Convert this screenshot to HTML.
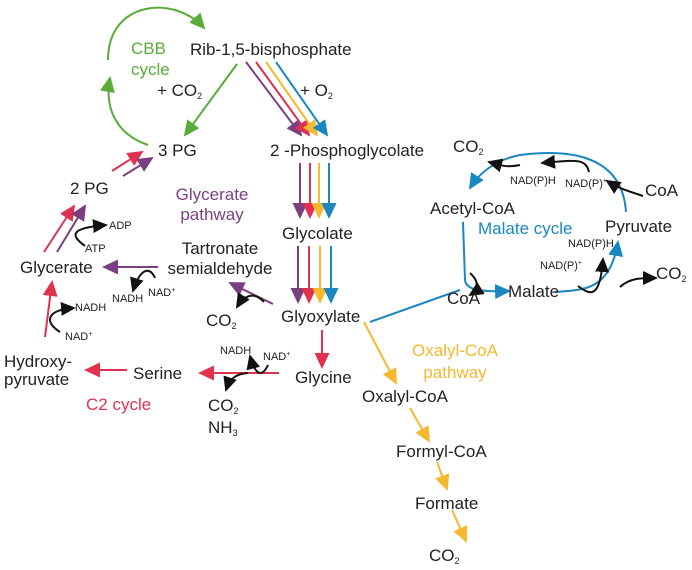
<!DOCTYPE html>
<html><head><meta charset="utf-8"><style>
html,body{margin:0;padding:0;background:#fff;}
svg{display:block;font-family:"Liberation Sans",sans-serif;}
.t{font-size:17px;fill:#222;}
.s{font-size:11px;fill:#222;}
</style></head><body>
<svg width="692" height="570" viewBox="0 0 692 570" xmlns="http://www.w3.org/2000/svg">
<defs>
<marker id="g" markerUnits="userSpaceOnUse" markerWidth="16" markerHeight="15" refX="14" refY="7.5" orient="auto"><path d="M0,0L16,7.5L0,15z" fill="#5aab3a"/></marker>
<marker id="p" markerUnits="userSpaceOnUse" markerWidth="16" markerHeight="15" refX="14" refY="7.5" orient="auto"><path d="M0,0L16,7.5L0,15z" fill="#7b3f7f"/></marker>
<marker id="r" markerUnits="userSpaceOnUse" markerWidth="16" markerHeight="15" refX="14" refY="7.5" orient="auto"><path d="M0,0L16,7.5L0,15z" fill="#e0314f"/></marker>
<marker id="y" markerUnits="userSpaceOnUse" markerWidth="16" markerHeight="15" refX="14" refY="7.5" orient="auto"><path d="M0,0L16,7.5L0,15z" fill="#f5b82e"/></marker>
<marker id="b" markerUnits="userSpaceOnUse" markerWidth="16" markerHeight="15" refX="14" refY="7.5" orient="auto"><path d="M0,0L16,7.5L0,15z" fill="#1a87c0"/></marker>
<marker id="k" markerUnits="userSpaceOnUse" markerWidth="15" markerHeight="14" refX="13" refY="7" orient="auto"><path d="M0,0L15,7L0,14z" fill="#111"/></marker>
</defs>
<g fill="none" stroke-width="2">
<path d="M148,145 C118,135 104,110 110,78" stroke="#5aab3a" marker-end="url(#g)"/>
<path d="M108,60 C108,0 175,-5 204,28" stroke="#5aab3a" marker-end="url(#g)"/>
<path d="M237,64 L185,135" stroke="#5aab3a" marker-end="url(#g)"/>
<path d="M246,62 L301,135" stroke="#7b3f7f" marker-end="url(#p)"/>
<path d="M256,62 L309,135" stroke="#e0314f" marker-end="url(#r)"/>
<path d="M266,62 L317,135" stroke="#f5b82e" marker-end="url(#y)"/>
<path d="M276,62 L327,135" stroke="#1a87c0" marker-end="url(#b)"/>
<path d="M300,163 L300,217" stroke="#7b3f7f" marker-end="url(#p)"/>
<path d="M310,163 L310,217" stroke="#e0314f" marker-end="url(#r)"/>
<path d="M319,163 L319,217" stroke="#f5b82e" marker-end="url(#y)"/>
<path d="M329,163 L329,217" stroke="#1a87c0" marker-end="url(#b)"/>
<path d="M298,246 L298,302" stroke="#7b3f7f" marker-end="url(#p)"/>
<path d="M309,246 L309,302" stroke="#e0314f" marker-end="url(#r)"/>
<path d="M320,246 L320,302" stroke="#f5b82e" marker-end="url(#y)"/>
<path d="M331,246 L331,302" stroke="#1a87c0" marker-end="url(#b)"/>
<path d="M273,304 L230,283" stroke="#7b3f7f" marker-end="url(#p)"/>
<path d="M264,302 C255,292 245,294 237,307" stroke="#111" marker-end="url(#k)"/>
<path d="M158,267 L104,267" stroke="#7b3f7f" marker-end="url(#p)"/>
<path d="M155,278 C150,266 140,268 133,291" stroke="#111" marker-end="url(#k)"/>
<path d="M44,252 L74,206" stroke="#e0314f" marker-end="url(#r)"/>
<path d="M57,252 L85,206" stroke="#7b3f7f" marker-end="url(#p)"/>
<path d="M85,246 C70,235 70,228 106,225" stroke="#111" marker-end="url(#k)"/>
<path d="M112,171 L142,152" stroke="#e0314f" marker-end="url(#r)"/>
<path d="M123,176 L152,158" stroke="#7b3f7f" marker-end="url(#p)"/>
<path d="M45,337 L52,282" stroke="#e0314f" marker-end="url(#r)"/>
<path d="M60,332 C44,322 46,310 74,308" stroke="#111" marker-end="url(#k)"/>
<path d="M127,370 L86,370" stroke="#e0314f" marker-end="url(#r)"/>
<path d="M279,373 L200,373" stroke="#e0314f" marker-end="url(#r)"/>
<path d="M268,365 C262,378 255,375 250,356" stroke="#111" marker-end="url(#k)"/>
<path d="M248,373 C236,374 230,378 226,390" stroke="#111" marker-end="url(#k)"/>
<path d="M322,330 L322,367" stroke="#e0314f" marker-end="url(#r)"/>
<path d="M364,322 L396,383" stroke="#f5b82e" marker-end="url(#y)"/>
<path d="M410,408 L429,441" stroke="#f5b82e" marker-end="url(#y)"/>
<path d="M437,462 L447,489" stroke="#f5b82e" marker-end="url(#y)"/>
<path d="M452,510 L466,541" stroke="#f5b82e" marker-end="url(#y)"/>
<path d="M370,322 L460,290" stroke="#1a87c0"/>
<path d="M463,222 L465,280 C466,290 480,292 509,291" stroke="#1a87c0" marker-end="url(#b)"/>
<path d="M555,292 C585,290 610,290 618,242" stroke="#1a87c0" marker-end="url(#b)"/>
<path d="M626,212 C622,150 560,150 520,155 C495,160 480,172 470,188" stroke="#1a87c0" marker-end="url(#b)"/>
<path d="M643,196 C625,190 618,188 607,181" stroke="#111" marker-end="url(#k)"/>
<path d="M589,172 C586,158 575,160 542,163" stroke="#111" marker-end="url(#k)"/>
<path d="M520,165 C505,168 500,165 489,162" stroke="#111" marker-end="url(#k)"/>
<path d="M578,286 C590,295 600,300 603,259" stroke="#111" marker-end="url(#k)"/>
<path d="M620,287 C630,278 640,278 656,278" stroke="#111" marker-end="url(#k)"/>
<path d="M470,273 C480,282 478,290 470,295" stroke="#111" marker-end="url(#k)"/>
</g>
<g class="t">
<text x="190" y="55">Rib-1,5-bisphosphate</text>
<text x="157" y="96">+ CO<tspan font-size="9" dy="3">2</tspan></text>
<text x="300" y="96">+ O<tspan font-size="9" dy="3">2</tspan></text>
<text x="158" y="156">3 PG</text>
<text x="270" y="156">2 -Phosphoglycolate</text>
<text x="70" y="194">2 PG</text>
<text x="282" y="239">Glycolate</text>
<text x="220" y="254" text-anchor="middle">Tartronate</text>
<text x="220" y="274" text-anchor="middle">semialdehyde</text>
<text x="20" y="273">Glycerate</text>
<text x="206" y="326">CO<tspan font-size="9" dy="3">2</tspan></text>
<text x="281" y="322">Glyoxylate</text>
<text x="4" y="367">Hydroxy-</text>
<text x="4" y="385">pyruvate</text>
<text x="133" y="379">Serine</text>
<text x="295" y="383">Glycine</text>
<text x="362" y="402">Oxalyl-CoA</text>
<text x="396" y="457">Formyl-CoA</text>
<text x="415" y="509">Formate</text>
<text x="429" y="561">CO<tspan font-size="9" dy="3">2</tspan></text>
<text x="208" y="411">CO<tspan font-size="9" dy="3">2</tspan></text>
<text x="208" y="433">NH<tspan font-size="9" dy="3">3</tspan></text>
<text x="453" y="152">CO<tspan font-size="9" dy="3">2</tspan></text>
<text x="645" y="196">CoA</text>
<text x="430" y="214">Acetyl-CoA</text>
<text x="605" y="232">Pyruvate</text>
<text x="656" y="279">CO<tspan font-size="9" dy="3">2</tspan></text>
<text x="447" y="304">CoA</text>
<text x="508" y="297">Malate</text>
</g>
<g class="s">
<text x="109" y="229">ADP</text>
<text x="85" y="252">ATP</text>
<text x="75" y="311">NADH</text>
<text x="65" y="340">NAD<tspan font-size="7" dy="-4">+</tspan></text>
<text x="112" y="302">NADH</text>
<text x="148" y="296">NAD<tspan font-size="7" dy="-4">+</tspan></text>
<text x="220" y="354">NADH</text>
<text x="263" y="360">NAD<tspan font-size="7" dy="-4">+</tspan></text>
<text x="510" y="184">NAD(P)H</text>
<text x="565" y="187">NAD(P)<tspan font-size="7" dy="-4">+</tspan></text>
<text x="568" y="247">NAD(P)H</text>
<text x="540" y="269">NAD(P)<tspan font-size="7" dy="-4">+</tspan></text>
</g>
<g style="font-size:17px">
<text x="131" y="54" fill="#5aab3a">CBB</text>
<text x="131" y="75" fill="#5aab3a">cycle</text>
<text x="212" y="200" fill="#7b3f7f" text-anchor="middle">Glycerate</text>
<text x="212" y="220" fill="#7b3f7f" text-anchor="middle">pathway</text>
<text x="86" y="410" fill="#e0314f">C2 cycle</text>
<text x="455" y="356" fill="#f5b82e" text-anchor="middle">Oxalyl-CoA</text>
<text x="455" y="378" fill="#f5b82e" text-anchor="middle">pathway</text>
<text x="478" y="234" fill="#1a87c0">Malate cycle</text>
</g>
</svg>
</body></html>
